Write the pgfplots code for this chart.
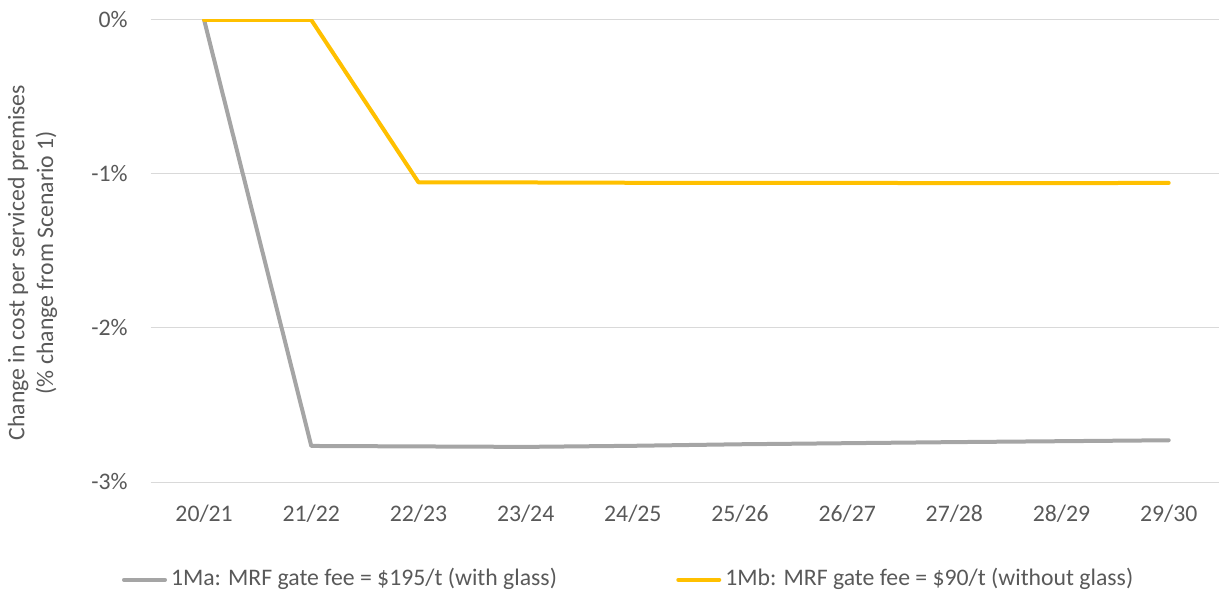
\documentclass[border=0pt]{standalone}
\usepackage{fontspec}
\setmainfont{Carlito}
\usepackage{pgfplots}
\pgfplotsset{compat=1.18}
\definecolor{txt}{HTML}{595959}
\definecolor{gridc}{HTML}{D9D9D9}
\definecolor{s1}{HTML}{A5A5A5}
\definecolor{s2}{HTML}{FFC000}
\newcommand{\fs}{\fontsize{17.8pt}{21.7pt}\selectfont}
\begin{document}
\begin{tikzpicture}
\useasboundingbox (0,0) rectangle (914.25pt,444pt);
\begin{axis}[
  at={(112.9pt,82.5pt)}, anchor=south west,
  scale only axis, width=801.4pt, height=346.5pt,
  xmin=-0.5, xmax=9.47, ymin=-3, ymax=0,
  xtick={0,...,9},
  xticklabels={20/21,21/22,22/23,23/24,24/25,25/26,26/27,27/28,28/29,29/30},
  ytick={-3,-2,-1,0},
  yticklabels={-3\%,-2\%,-1\%,0\%},
  ymajorgrids, grid style={gridc, line width=0.75pt},
  axis line style={draw=none}, major tick length=0pt,
  tick label style={font=\fs, text=txt},
  yticklabel style={inner sep=0pt, anchor=east, xshift=-17pt},
  xticklabel style={inner sep=0pt, anchor=base, yshift=-29.25pt},
  legend columns=2,
  legend cell align=left,
  legend style={draw=none, fill=none, inner sep=0pt, outer sep=0pt,
    at={(axis description cs:-0.0267,-0.208)}, anchor=west,
    font=\fs, text=txt, column sep=3pt,
    /tikz/every even column/.append style={column sep=89.5pt},
    cells={anchor=base west}, nodes={inner sep=0pt}},
  legend image code/.code={\draw[#1] (0pt,4.5pt) -- (30.75pt,4.5pt);},
]
\addplot[s1, line width=3pt, line join=round, line cap=round] coordinates {
  (0,0) (1,-2.766) (2,-2.769) (3,-2.772) (4,-2.765) (5,-2.755)
  (6,-2.748) (7,-2.741) (8,-2.735) (9,-2.729)};
\addlegendentry{1Ma: MRF gate fee = \$195/t (with glass)}
\addplot[s2, line width=3pt, line join=round, line cap=round] coordinates {
  (0,0) (1,0) (2,-1.054) (3,-1.055) (4,-1.057) (5,-1.058)
  (6,-1.058) (7,-1.059) (8,-1.059) (9,-1.058)};
\addlegendentry{1Mb: MRF gate fee = \$90/t (without glass)}
\end{axis}
\node[rotate=90, align=center, font=\fs, text=txt, inner sep=0pt] at (24.4pt,247pt)
  {Change in cost per serviced premises\\(\% change from Scenario 1)};
\end{tikzpicture}
\end{document}
